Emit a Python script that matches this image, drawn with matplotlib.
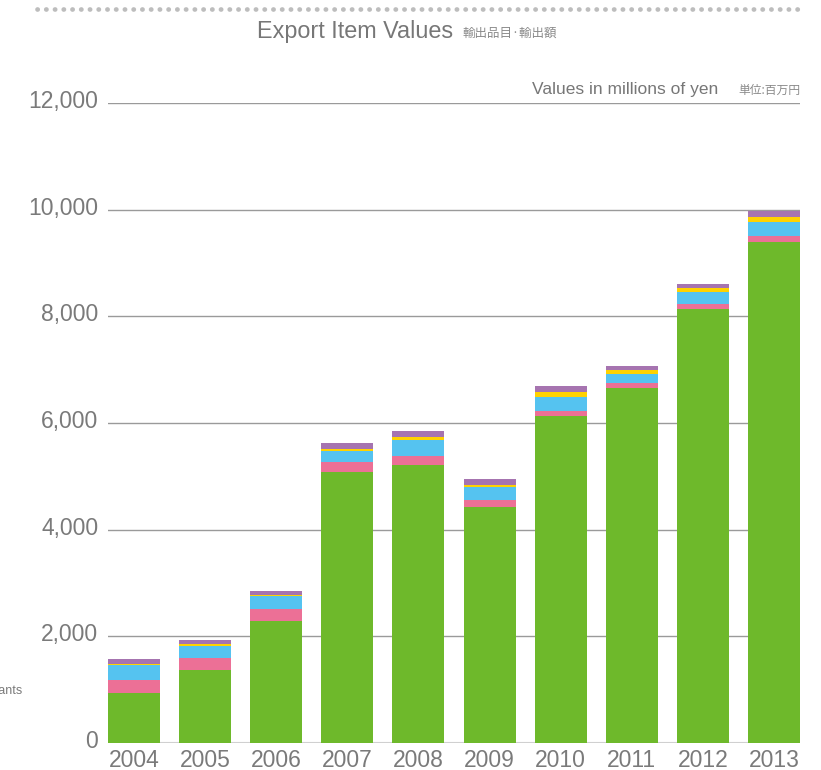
"""Stacked bar chart of export item values, 2004-2013 (millions of yen)."""

import matplotlib

matplotlib.use("Agg")
import matplotlib.pyplot as plt
import matplotlib.transforms as mtransforms
from matplotlib.lines import Line2D
from matplotlib.ticker import FuncFormatter

YEARS = ["2004", "2005", "2006", "2007", "2008", "2009", "2010", "2011", "2012", "2013"]

# stacked from bottom to top
GREEN_VALUES = [930, 1370, 2280, 5090, 5210, 4420, 6130, 6660, 8130, 9390]
PINK_VALUES = [255, 225, 225, 180, 175, 140, 95, 95, 100, 110]
BLUE_VALUES = [270, 230, 255, 205, 295, 245, 260, 170, 225, 260]
YELLOW_VALUES = [25, 35, 20, 35, 55, 35, 95, 75, 75, 95]
PURPLE_VALUES = [95, 70, 70, 110, 110, 110, 110, 60, 75, 125]

Y_TICKS = [0, 2000, 4000, 6000, 8000, 10000, 12000]

SERIES = [
    (GREEN_VALUES, "#6eb92b"),
    (PINK_VALUES, "#ec7096"),
    (BLUE_VALUES, "#55c3f0"),
    (YELLOW_VALUES, "#ffd200"),
    (PURPLE_VALUES, "#a674b0"),
]

W, H = 821, 770
CJK = ["Noto Sans CJK JP", "DejaVu Sans"]

plt.rcParams["font.family"] = ["Liberation Sans", "DejaVu Sans"]


def px(x, y):
    return x / W, 1 - y / H


def main() -> None:
    fig = plt.figure(figsize=(W / 100, H / 100), dpi=100)
    ax = fig.add_axes([108 / W, 27 / H, 692 / W, 640 / H])

    x = list(range(len(YEARS)))
    bottom = [0] * len(YEARS)
    for values, color in SERIES:
        ax.bar(x, values, width=0.73, bottom=bottom, color=color, linewidth=0, zorder=3)
        bottom = [b + v for b, v in zip(bottom, values)]

    ax.set_xlim(-0.365, len(YEARS) - 1 + 0.365)
    ax.set_ylim(0, 12000)
    ax.set_yticks(Y_TICKS)
    ax.yaxis.set_major_formatter(FuncFormatter(lambda v, _: f"{int(v):,}"))
    ax.set_xticks(x)
    ax.set_xticklabels(YEARS)

    for y in Y_TICKS[1:]:
        ax.axhline(y, color="#9a9a9a", linewidth=1.0, zorder=1)
    ax.axhline(0, color="#d0d0d0", linewidth=1.5, zorder=2)

    for spine in ax.spines.values():
        spine.set_visible(False)
    ax.tick_params(axis="both", length=0, labelsize=16.5, labelcolor="#7a7a7a")
    ax.tick_params(axis="y", pad=7)
    ax.tick_params(axis="x", pad=4)
    shift = mtransforms.ScaledTranslation(0, 3 / 72, fig.dpi_scale_trans)
    for label in ax.get_yticklabels():
        label.set_transform(label.get_transform() + shift)

    # dotted rule along the top
    x0, y0 = px(37, 9)
    x1, _ = px(800, 9)
    fig.add_artist(
        Line2D(
            [x0, x1], [y0, y0],
            transform=fig.transFigure,
            color="#bdbdbd",
            linewidth=3.4,
            linestyle=(0, (0.05, 1.8)),
            dash_capstyle="round",
        )
    )

    fig.text(*px(257, 38), "Export Item Values", fontsize=16.8, color="#777777",
             va="baseline", ha="left")
    fig.text(*px(462, 37), "輸出品目·輸出額", fontsize=9, color="#8a8a8a",
             va="baseline", ha="left", family=CJK)

    fig.text(*px(718, 94), "Values in millions of yen", fontsize=12.5, color="#777777",
             va="baseline", ha="right")
    fig.text(*px(800, 94), "単位:百万円", fontsize=8.5, color="#8a8a8a",
             va="baseline", ha="right", family=CJK)

    # legend label cut off by the left edge
    fig.text(*px(22, 694), "Plants", fontsize=9, color="#7a7a7a",
             va="baseline", ha="right")

    fig.savefig("out.png", dpi=100)
    plt.close(fig)


if __name__ == "__main__":
    main()
